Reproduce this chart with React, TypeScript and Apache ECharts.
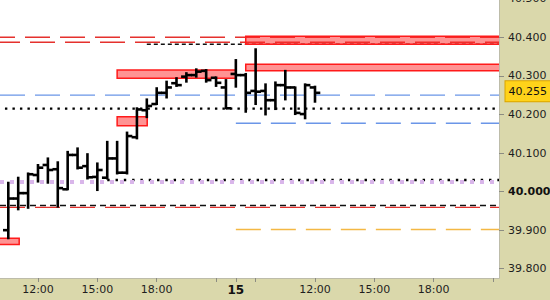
import React, { useEffect, useRef } from 'react';
import * as echarts from 'echarts';

// ---- Data ----
// Bar positions on a compressed time axis (hours; day 15 session mapped after day 14)
const barTimes = [
  10.5, 11, 11.5, 12, 12.5, 13, 13.5, 14, 14.5, 15, 15.5, 16, 16.5, 17, 17.5, 18,
  18.5, 19, 19.5, 20, 20.5, 21, 21.5, 22, 22.5, 23, 23.5, 24, 24.5, 25, 25.5, 26,
];
const opens = [
  39.900, 39.982, 39.996, 40.043, 40.069, 40.058, 40.006, 40.095, 40.066, 40.038, 40.036, 40.086,
  40.049, 40.141, 40.211, 40.227, 40.256, 40.281, 40.298, 40.302, 40.313, 40.295, 40.270, 40.305,
  40.302, 40.261, 40.261, 40.237, 40.276, 40.270, 40.201, 40.270,
];
const highs = [
  40.023, 40.036, 40.047, 40.069, 40.086, 40.076, 40.103, 40.112, 40.097, 40.073, 40.129, 40.129,
  40.153, 40.216, 40.239, 40.268, 40.285, 40.294, 40.307, 40.317, 40.315, 40.296, 40.289, 40.341,
  40.305, 40.369, 40.278, 40.283, 40.313, 40.270, 40.278, 40.272,
];
const lows = [
  39.879, 39.954, 39.958, 40.026, 40.023, 39.961, 40.006, 40.060, 40.034, 40.004, 40.034, 40.047,
  40.047, 40.138, 40.193, 40.227, 40.244, 40.274, 40.285, 40.298, 40.285, 40.274, 40.216, 40.272,
  40.207, 40.227, 40.200, 40.214, 40.239, 40.201, 40.190, 40.233,
];
const closes = [
  39.982, 39.996, 40.045, 40.062, 40.056, 40.009, 40.095, 40.062, 40.037, 40.056, 40.086, 40.049,
  40.144, 40.213, 40.222, 40.256, 40.270, 40.276, 40.302, 40.311, 40.289, 40.282, 40.216, 40.302,
  40.256, 40.259, 40.237, 40.276, 40.270, 40.204, 40.276, 40.256,
];

// Horizontal levels
const levelNames = ['redA', 'redB', 'blackDash1', 'blueA', 'blueB', 'dotA', 'dotB', 'lilac', 'blackDash2', 'redC', 'orange'];
const levelPrices = [40.400, 40.387, 40.382, 40.250, 40.177, 40.215, 40.030, 40.025, 39.964, 39.959, 39.902];
const levelFrom = [10.08, 10.08, 17.5, 10.08, 22.0, 10.33, 15.5, 10.08, 10.08, 10.08, 22.0];
const levelTo = [35.3, 35.3, 35.3, 35.3, 35.3, 35.1, 35.3, 35.3, 35.3, 35.3, 35.3];

// Zones (rectangles)
const zoneTop = [40.403, 40.330, 40.315, 40.194, 39.879];
const zoneBottom = [40.382, 40.313, 40.294, 40.171, 39.863];
const zoneFrom = [22.5, 22.5, 16.0, 16.0, 10.0];
const zoneTo = [36.0, 36.0, 22.0, 17.52, 11.05];

// Axis labels
const xTickValues = [12, 15, 18, 21, 22, 23, 26, 29, 32, 35];
const xLabelValues = [12, 15, 18, 22, 26, 29, 32];
const xLabelTexts = ['12:00', '15:00', '18:00', '15', '12:00', '15:00', '18:00'];
const lastPrice = 40.255;

const X_MIN = 10.08;
const X_MAX = 35.3;
const Y_MIN = 39.776;
const Y_MAX = 40.5;

const FONT = 'DejaVu Sans';
const BAND = '#DAD8AB';

const levelStyles: Record<string, any> = {
  redA: { stroke: '#e5312d', lineWidth: 1.5, lineDash: [25, 10], lineDashOffset: 10 },
  redB: { stroke: '#e5312d', lineWidth: 1.5, lineDash: [25, 10], lineDashOffset: 5 },
  blackDash1: { stroke: '#111', lineWidth: 1.3, lineDash: [4, 3] },
  blueA: { stroke: '#6b96e8', lineWidth: 1.4, lineDash: [25, 10] },
  blueB: { stroke: '#6b96e8', lineWidth: 1.4, lineDash: [25, 10] },
  dotA: { stroke: '#000', lineWidth: 2.4, lineDash: [2.4, 5.1] },
  dotB: { stroke: '#000', lineWidth: 2.4, lineDash: [2.4, 5.9] },
  lilac: { stroke: '#d9b6ea', lineWidth: 4, lineDash: [4, 6] },
  blackDash2: { stroke: '#111', lineWidth: 1.4, lineDash: [6, 4] },
  redC: { stroke: '#e5312d', lineWidth: 1.4, lineDash: [25, 10] },
  orange: { stroke: '#f4b844', lineWidth: 1.5, lineDash: [25, 10] },
};

export default function App() {
  const ref = useRef<HTMLDivElement>(null);

  useEffect(() => {
    const chart = echarts.init(ref.current!, null, { renderer: 'svg' });

    const barData = barTimes.map((t, i) => [t, opens[i], highs[i], lows[i], closes[i]]);
    const levelData = levelPrices.map((p, i) => [levelFrom[i], levelTo[i], p, i]);
    const zoneData = zoneTop.map((t, i) => [zoneFrom[i], zoneTo[i], t, zoneBottom[i]]);

    const option: any = {
      animation: false,
      backgroundColor: BAND,
      grid: {
        left: 0,
        top: -1.27,
        width: 499,
        height: 279.27,
        show: true,
        backgroundColor: '#ffffff',
        borderWidth: 0,
        containLabel: false,
        outerBoundsMode: 'none',
      },
      xAxis: {
        type: 'value',
        min: X_MIN,
        max: X_MAX,
        position: 'bottom',
        splitLine: { show: false },
        axisLine: { show: true, lineStyle: { color: '#bdbcaa', width: 1 } },
        axisTick: {
          show: true,
          customValues: xTickValues,
          length: 4,
          lineStyle: { color: '#8c8c82' },
        },
        axisLabel: {
          customValues: xLabelValues,
          margin: 6,
          fontSize: 11,
          fontFamily: FONT,
          color: '#1e1e1e',
          formatter: (v: number) => {
            const idx = xLabelValues.findIndex((x) => Math.abs(x - v) < 1e-6);
            if (idx < 0) return '';
            const txt = xLabelTexts[idx];
            return v === 22 ? '{b|' + txt + '}' : txt;
          },
          rich: {
            b: { fontWeight: 'bold', fontSize: 12, fontFamily: FONT, color: '#111' },
          },
        },
      },
      yAxis: {
        type: 'value',
        position: 'right',
        min: Y_MIN,
        max: Y_MAX,
        scale: true,
        splitLine: { show: false },
        axisLine: { show: true, lineStyle: { color: '#bdbcaa', width: 1 } },
        axisTick: { show: true, length: 5, lineStyle: { color: '#8c8c82' } },
        axisLabel: {
          showMinLabel: false,
          margin: 9,
          fontSize: 11,
          fontFamily: FONT,
          color: '#1e1e1e',
          formatter: (v: number) => {
            const s = v.toFixed(3);
            return Math.abs(v - 40) < 1e-9 ? '{b|' + s + '}' : s;
          },
          rich: {
            b: { fontWeight: 'bold', fontSize: 11, fontFamily: FONT, color: '#111' },
          },
        },
      },
      series: [
        {
          type: 'custom',
          name: 'levels',
          z: 2,
          clip: true,
          data: levelData,
          encode: { x: [0, 1], y: 2 },
          renderItem: (params: any, api: any) => {
            const p1 = api.coord([api.value(0), api.value(2)]);
            const p2 = api.coord([api.value(1), api.value(2)]);
            const name = levelNames[api.value(3)];
            return {
              type: 'line',
              shape: { x1: p1[0], y1: p1[1], x2: p2[0], y2: p2[1] },
              style: { fill: null, ...levelStyles[name] },
            };
          },
        },
        {
          type: 'custom',
          name: 'zones',
          z: 3,
          clip: true,
          data: zoneData,
          encode: { x: [0, 1], y: [2, 3] },
          renderItem: (params: any, api: any) => {
            const a = api.coord([api.value(0), api.value(2)]);
            const b = api.coord([api.value(1), api.value(3)]);
            return {
              type: 'rect',
              shape: { x: a[0], y: a[1], width: b[0] - a[0], height: b[1] - a[1] },
              style: { fill: 'rgba(255,40,40,0.5)', stroke: '#ff1a1a', lineWidth: 1.5 },
            };
          },
        },
        {
          type: 'custom',
          name: 'ohlc',
          z: 4,
          clip: true,
          data: barData,
          encode: { x: 0, y: [1, 2, 3, 4] },
          renderItem: (params: any, api: any) => {
            const x = api.value(0);
            const pO = api.coord([x, api.value(1)]);
            const pH = api.coord([x, api.value(2)]);
            const pL = api.coord([x, api.value(3)]);
            const pC = api.coord([x, api.value(4)]);
            const w = 5.3;
            const st = { stroke: '#000', lineWidth: 2.6, lineCap: 'butt' };
            return {
              type: 'group',
              children: [
                { type: 'line', shape: { x1: pH[0], y1: pH[1] - 1, x2: pL[0], y2: pL[1] + 1 }, style: st },
                { type: 'line', shape: { x1: pO[0] - w, y1: pO[1], x2: pO[0], y2: pO[1] }, style: st },
                { type: 'line', shape: { x1: pC[0], y1: pC[1], x2: pC[0] + w, y2: pC[1] }, style: st },
              ],
            };
          },
        },
        {
          type: 'line',
          name: 'last',
          data: [],
          clip: false,
          z: 5,
          markLine: {
            silent: true,
            symbol: 'none',
            data: [{ yAxis: lastPrice }],
            lineStyle: { color: 'rgba(0,0,0,0)', width: 0 },
            label: {
              show: true,
              position: 'end',
              distance: 6.5,
              formatter: lastPrice.toFixed(3),
              fontSize: 11,
              fontFamily: FONT,
              color: '#111',
              backgroundColor: '#ffd31a',
              borderColor: '#d9a300',
              borderWidth: 1,
              padding: [4, 8, 3, 3],
              lineHeight: 13,
            },
          },
        },
      ],
    };

    chart.setOption(option);
    return () => chart.dispose();
  }, []);

  return (
    <div
      ref={ref}
      style={{ position: 'fixed', left: 0, top: 0, width: 550, height: 300 }}
    />
  );
}
